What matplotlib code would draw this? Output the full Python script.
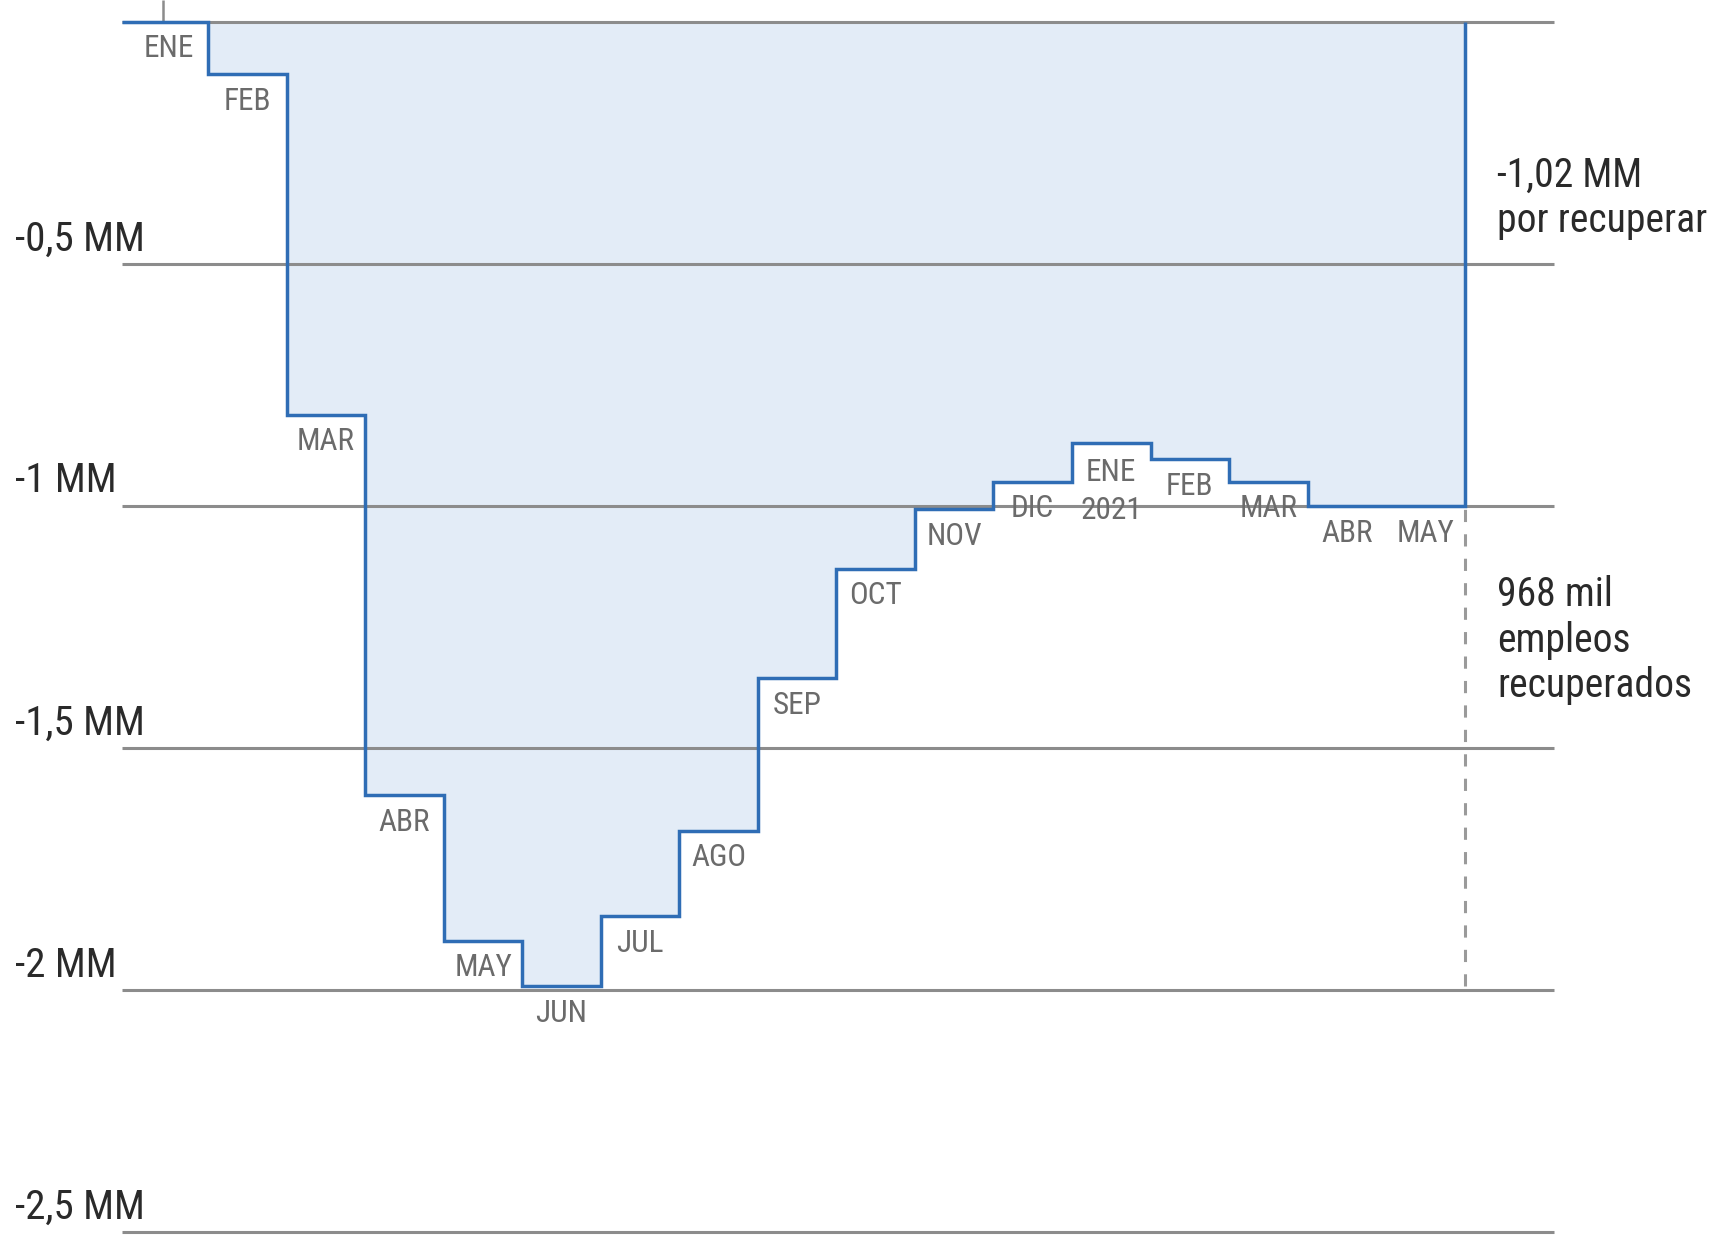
import numpy as np
import matplotlib
matplotlib.use( 'Agg' )
import matplotlib.pyplot as plt
import matplotlib.transforms as mtransforms

plt.rcParams['font.family'] = [ 'Roboto Condensed', 'Liberation Sans Narrow', 'Roboto', 'DejaVu Sans' ]

# empleos perdidos acumulados desde enero 2020 (millones)
months = [ 'ENE', 'FEB', 'MAR', 'ABR', 'MAY', 'JUN', 'JUL', 'AGO', 'SEP',
           'OCT', 'NOV', 'DIC', 'ENE\n2021', 'FEB', 'MAR', 'ABR', 'MAY' ]
values = [ 0.0, -0.108, -0.812, -1.597, -1.898, -1.992, -1.848, -1.671, -1.356,
           -1.130, -1.007, -0.950, -0.869, -0.904, -0.950, -1.000, -1.000 ]
yTicks = [ -0.5, -1.0, -1.5, -2.0, -2.5 ]
yTickLabels = [ '-0,5 MM', '-1 MM', '-1,5 MM', '-2 MM', '-2,5 MM' ]
noteTop = '-1,02 MM\npor recuperar'
noteBottom = '968 mil\nempleos\nrecuperados'

n = len( values )
edges = np.arange( n + 1 ) - 0.5
edges[0] = -0.6

blue  = '#2f6db5'
fillC = '#e3ecf7'
gridC = '#8c8c8c'

fig = plt.figure( figsize = ( 17.1, 12.37 ), dpi = 100 )
ax = fig.add_axes( [ 0, 0, 1, 1 ] )
ax.axis( 'off' )
ax.set_xlim( -2.152, 19.625 )
ax.set_ylim( -2.51, 0.045 )

ax.stairs( values, edges, baseline = 0, fill = True, color = fillC,
           linewidth = 0, zorder = 1 )

ax.hlines( [ 0.0 ] + yTicks, -0.6, 17.64, color = gridC, linewidth = 2.2,
           zorder = 2 )

ax.stairs( values, edges, baseline = 0, fill = False, edgecolor = blue,
           linewidth = 2.5, zorder = 3 )

# marca superior de enero
ax.vlines( -0.08, 0.0, 0.045, color = gridC, linewidth = 1.8, zorder = 2 )

# linea punteada de empleos recuperados
ax.vlines( edges[-1], min( values ), values[-1], color = '#9a9a9a',
           linewidth = 2.2, linestyles = ( 0, ( 4, 4 ) ), zorder = 2 )

trans = mtransforms.blended_transform_factory( ax.transAxes, ax.transData )
for yv, lab in zip( yTicks, yTickLabels ):
    ax.annotate( lab, xy = ( 0.0088, yv ), xycoords = trans,
                 xytext = ( 0, 4 ), textcoords = 'offset points',
                 ha = 'left', va = 'bottom', fontsize = 29.5, color = '#2a2a2a' )

for i, ( m, v ) in enumerate( zip( months, values ) ):
    off = -19.5
    if '\n' in m:
        off = -35.5
    ax.annotate( m, xy = ( i, v ), xytext = ( 0, off ),
                 textcoords = 'offset points', ha = 'center', va = 'center',
                 fontsize = 22.5, color = '#6b6b6b', linespacing = 1.4,
                 zorder = 4 )

ax.text( 0.8754, -0.363, noteTop, transform = trans, ha = 'left',
         va = 'center', fontsize = 28.5, color = '#2a2a2a', linespacing = 1.2 )
ax.text( 0.8754, -1.277, noteBottom, transform = trans, ha = 'left',
         va = 'center', fontsize = 28.5, color = '#2a2a2a', linespacing = 1.2 )

fig.savefig( 'out.png', dpi = 100, facecolor = 'white' )
plt.close()
